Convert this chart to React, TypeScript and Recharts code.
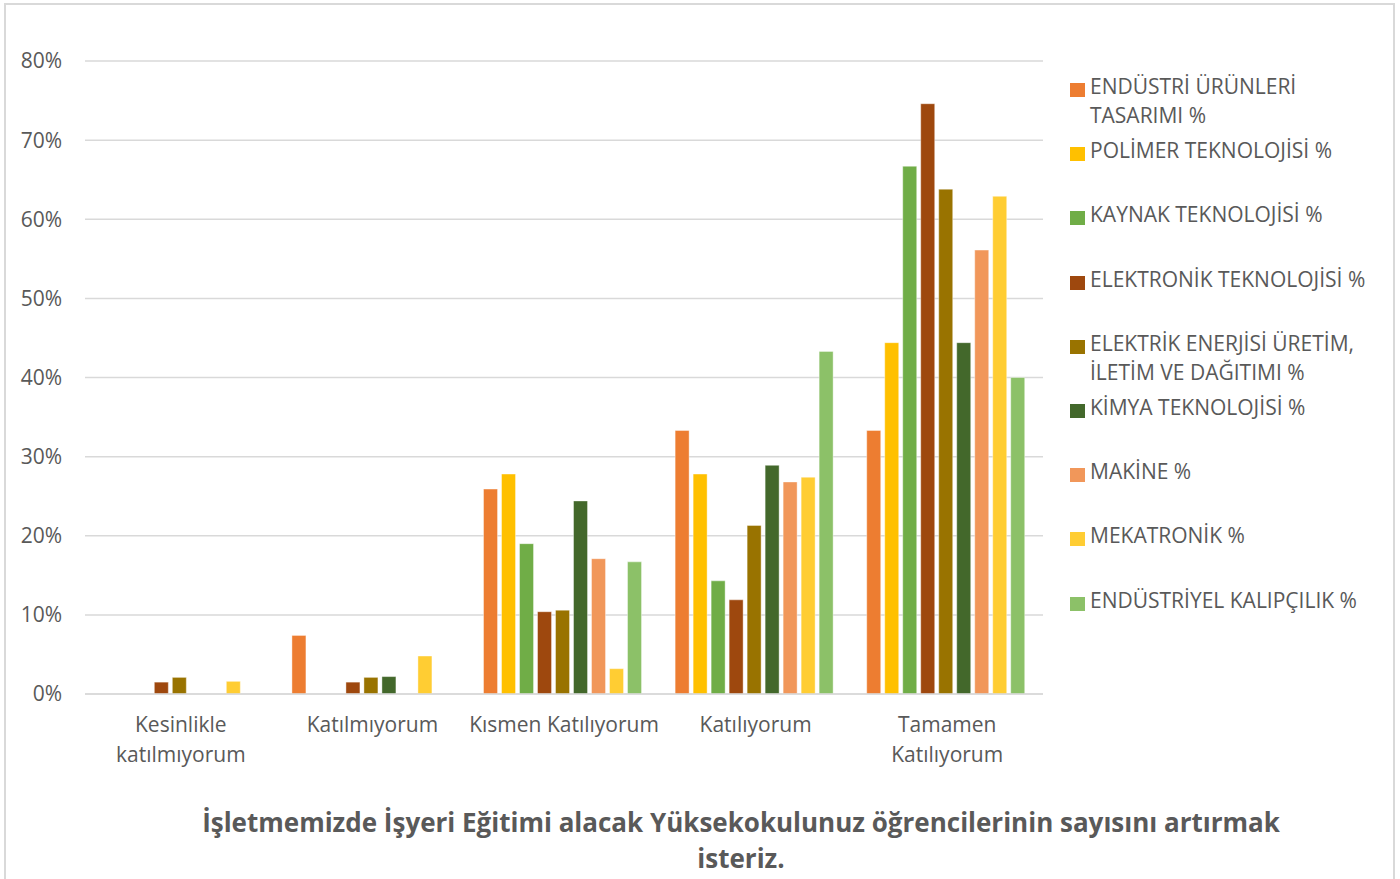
import React from 'react';
import { BarChart, Bar, XAxis, YAxis, CartesianGrid, Legend } from 'recharts';

// answer categories (x axis)
const categories = [
  'Kesinlikle katılmıyorum',
  'Katılmıyorum',
  'Kısmen Katılıyorum',
  'Katılıyorum',
  'Tamamen Katılıyorum',
];
// how the tick labels wrap
const categoryLines = [
  ['Kesinlikle', 'katılmıyorum'],
  ['Katılmıyorum'],
  ['Kısmen Katılıyorum'],
  ['Katılıyorum'],
  ['Tamamen', 'Katılıyorum'],
];

const yTicks = [0, 10, 20, 30, 40, 50, 60, 70, 80];

// series values, % per category
const endustriUrunleri = [0, 7.4, 25.9, 33.3, 33.3];
const polimer = [0, 0, 27.8, 27.8, 44.4];
const kaynak = [0, 0, 19.0, 14.3, 66.7];
const elektronik = [1.5, 1.5, 10.4, 11.9, 74.6];
const elektrik = [2.1, 2.1, 10.6, 21.3, 63.8];
const kimya = [0, 2.2, 24.4, 28.9, 44.4];
const makine = [0, 0, 17.1, 26.8, 56.1];
const mekatronik = [1.6, 4.8, 3.2, 27.4, 62.9];
const kalipcilik = [0, 0, 16.7, 43.3, 40.0];

const series = [
  { key: 'eut', name: 'ENDÜSTRİ ÜRÜNLERİ\nTASARIMI %', values: endustriUrunleri, color: '#ED7D31' },
  { key: 'pol', name: 'POLİMER TEKNOLOJİSİ %', values: polimer, color: '#FFC000' },
  { key: 'kay', name: 'KAYNAK TEKNOLOJİSİ %', values: kaynak, color: '#70AD47' },
  { key: 'ele', name: 'ELEKTRONİK TEKNOLOJİSİ %', values: elektronik, color: '#9E480E' },
  { key: 'enr', name: 'ELEKTRİK ENERJİSİ ÜRETİM,\nİLETİM VE DAĞITIMI %', values: elektrik, color: '#997300' },
  { key: 'kim', name: 'KİMYA TEKNOLOJİSİ %', values: kimya, color: '#43682B' },
  { key: 'mak', name: 'MAKİNE %', values: makine, color: '#F1975A' },
  { key: 'mek', name: 'MEKATRONİK %', values: mekatronik, color: '#FFCD33' },
  { key: 'kal', name: 'ENDÜSTRİYEL KALIPÇILIK %', values: kalipcilik, color: '#8CC168' },
];

const titleLines = [
  'İşletmemizde İşyeri Eğitimi alacak Yüksekokulunuz öğrencilerinin sayısını artırmak',
  'isteriz.',
];

const data = categories.map((c, i) => {
  const row: any = { name: c };
  series.forEach((s) => { row[s.key] = s.values[i]; });
  return row;
});

const FONT = '"Open Sans", sans-serif';
const TEXT = '#595959';

const CategoryTick = (props: any) => {
  const { x, y, payload } = props;
  const lines = categoryLines[payload.index] || [payload.value];
  return (
    <text x={x} y={y} textAnchor="middle" fill={TEXT} fontSize={21} fontFamily={FONT}>
      {lines.map((l, i) => (
        <tspan key={i} x={x} dy={i === 0 ? 30 : 30}>{l}</tspan>
      ))}
    </text>
  );
};

// legend keeps the series order (recharts would sort it by name)
const renderLegend = () => (
  <div style={{ fontFamily: FONT, fontSize: 21, color: TEXT }}>
    {series.map((s) => (
      <div key={s.key} style={{ height: 64.2, display: 'flex', alignItems: 'flex-start' }}>
        <div style={{ width: 15, height: 14, background: s.color, marginTop: 8, marginRight: 5, flexShrink: 0 }} />
        <div style={{ whiteSpace: 'pre-line', lineHeight: '29px', marginTop: -3 }}>{s.name}</div>
      </div>
    ))}
  </div>
);

export default function App() {
  return (
    <div style={{ position: 'absolute', left: 0, top: 0, width: 1400, height: 879, background: '#fff', overflow: 'hidden' }}>
      <div style={{ position: 'absolute', left: 4, top: 3, width: 1387, height: 900, border: '2px solid #D9D9D9' }} />
      <div style={{ position: 'absolute', left: 0, top: 0 }}>
        <BarChart
          width={1400}
          height={879}
          data={data}
          margin={{ top: 61, right: 357, left: 20, bottom: 85 }}
          barCategoryGap="8%"
          barGap={4}
        >
          <CartesianGrid vertical={false} stroke="#D9D9D9" strokeWidth={1.5} />
          <XAxis
            dataKey="name"
            height={100}
            axisLine={{ stroke: '#D9D9D9', strokeWidth: 1.5 }}
            tickLine={false}
            tick={<CategoryTick />}
            interval={0}
          />
          <YAxis
            width={65}
            domain={[0, 80]}
            ticks={yTicks}
            axisLine={false}
            tickLine={false}
            tickSize={0}
            tickMargin={23}
            tickFormatter={(v) => `${v}%`}
            tick={{ fill: TEXT, fontSize: 21, fontFamily: FONT }}
          />
          <Legend
            layout="horizontal"
            verticalAlign="middle"
            align="center"
            content={renderLegend}
            wrapperStyle={{ position: 'absolute', left: 1070, top: 75, width: 325 }}
          />
          {series.map((s) => (
            <Bar
              key={s.key}
              dataKey={s.key}
              name={s.name}
              fill={s.color}
              stroke="#ffffff"
              strokeOpacity={0.4}
              strokeWidth={1}
              isAnimationActive={false}
            />
          ))}
        </BarChart>
      </div>
      <div
        style={{
          position: 'absolute',
          left: 85,
          width: 1312,
          top: 804,
          textAlign: 'center',
          fontFamily: FONT,
          fontWeight: 700,
          fontSize: 26,
          lineHeight: '36px',
          color: TEXT,
        }}
      >
        {titleLines.map((t) => (
          <div key={t}>{t}</div>
        ))}
      </div>
    </div>
  );
}
